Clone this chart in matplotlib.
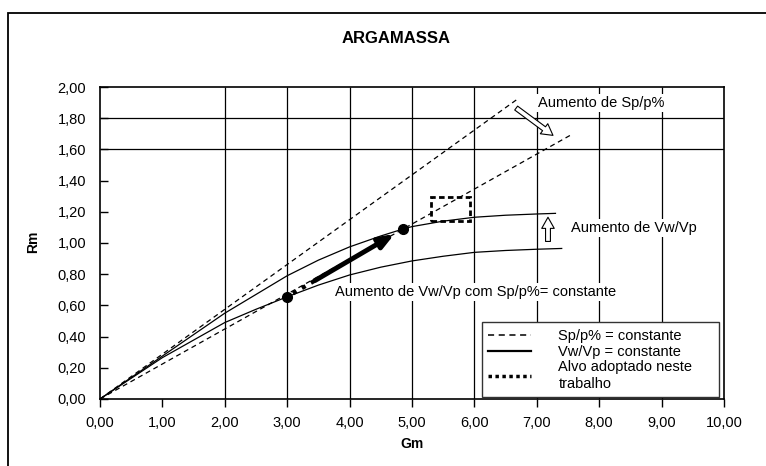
import numpy as np
import matplotlib
matplotlib.use('Agg')
from matplotlib import pyplot as plt
from matplotlib.lines import Line2D
from matplotlib.patches import Rectangle
from matplotlib.ticker import FuncFormatter

plt.rcParams['font.family'] = ['Liberation Sans', 'DejaVu Sans']

# Sp/p% = constante (straight lines from origin)
spp_hi_gm = [0.0, 6.70]
spp_hi_rm = [0.0, 1.925]
spp_lo_gm = [0.0, 7.58]
spp_lo_rm = [0.0, 1.70]

# Vw/Vp = constante curves
vw_hi_gm = [0, 1, 2, 3, 3.5, 4, 4.5, 4.86, 5, 5.5, 6, 6.5, 7, 7.3]
vw_hi_rm = [0, 0.275, 0.55, 0.79, 0.89, 0.975, 1.045, 1.09, 1.105, 1.14, 1.165, 1.178, 1.186, 1.19]
vw_lo_gm = [0, 1, 2, 2.5, 3, 3.5, 4, 4.5, 5, 5.5, 6, 6.5, 7, 7.4]
vw_lo_rm = [0, 0.265, 0.49, 0.575, 0.655, 0.73, 0.795, 0.845, 0.885, 0.915, 0.94, 0.952, 0.96, 0.965]

# path between the two mixes
pts_gm = [3.0, 4.86]
pts_rm = [0.655, 1.09]

# target zone
alvo_gm = [5.30, 5.93]
alvo_rm = [1.14, 1.295]

xticks = np.arange(0, 11, 1)
yticks = np.arange(0, 2.01, 0.2)
grid_x = [2, 3, 4, 5, 6, 7, 8, 9]
grid_y = [1.6, 1.8]

fig = plt.figure(figsize=(7.66, 4.66), dpi=100)
ax = fig.add_axes([0.1305, 0.1438, 0.8146, 0.6695])

# outer chart frame
fig.patches.append(Rectangle((0.0098, -0.2), 1.2, 0.2 + 0.972, transform=fig.transFigure,
                             fill=False, lw=1.3, ec='black'))

ax.vlines(grid_x, 0, 2, colors='black', lw=0.9, zorder=1)
ax.hlines(grid_y, 0, 10, colors='black', lw=0.9, zorder=1)

ax.plot(spp_hi_gm, spp_hi_rm, color='black', lw=0.9, ls=(0, (4, 3)), zorder=3)
ax.plot(spp_lo_gm, spp_lo_rm, color='black', lw=0.9, ls=(0, (4, 3)), zorder=3)
ax.plot(vw_hi_gm, vw_hi_rm, color='black', lw=0.9, zorder=3)
ax.plot(vw_lo_gm, vw_lo_rm, color='black', lw=0.9, zorder=3)

ax.plot(pts_gm, pts_rm, 'o', color='black', ms=7, zorder=5)

# thick arrow from first mix towards second
def along(t):
    return (pts_gm[0] + t * (pts_gm[1] - pts_gm[0]), pts_rm[0] + t * (pts_rm[1] - pts_rm[0]))

d0, d1 = along(0.05), along(0.25)
ax.plot([d0[0], d1[0]], [d0[1], d1[1]], color='black', lw=3, ls=(0, (1, 1.5)), zorder=4)
ax.annotate('', xy=along(0.925), xytext=along(0.24),
            arrowprops=dict(arrowstyle='-|>,head_length=0.9,head_width=0.35', color='black',
                            lw=3.5, shrinkA=0, shrinkB=0), zorder=4)

# target rectangle
ax.add_patch(Rectangle((alvo_gm[0], alvo_rm[0]), alvo_gm[1] - alvo_gm[0], alvo_rm[1] - alvo_rm[0],
                       fill=False, ec='black', lw=2, ls=(0, (2, 1.2)), zorder=4))

# hollow arrows
hollow = dict(arrowstyle='simple,head_length=0.8,head_width=0.9,tail_width=0.35',
              fc='white', ec='black', lw=0.8, shrinkA=0, shrinkB=0)
ax.annotate('', xy=(7.26, 1.69), xytext=(6.67, 1.865), arrowprops=hollow, zorder=6)
ax.annotate('', xy=(7.18, 1.165), xytext=(7.18, 1.01), arrowprops=hollow, zorder=6)

box = dict(fc='white', ec='none', pad=1.5)
ax.text(7.02, 1.90, 'Aumento de Sp/p%', fontsize=10.5, va='center', ha='left', bbox=box, zorder=2)
ax.text(7.55, 1.096, 'Aumento de Vw/Vp', fontsize=10.5, va='center', ha='left', bbox=box, zorder=2)
ax.text(3.77, 0.686, 'Aumento de Vw/Vp com Sp/p%= constante', fontsize=10.5, va='center',
        ha='left', bbox=box, zorder=2)

ax.set_xlim(0, 10)
ax.set_ylim(0, 2)
ax.set_xticks(xticks)
ax.set_yticks(yticks)
fmt = FuncFormatter(lambda v, p: f'{v:.2f}'.replace('.', ','))
ax.xaxis.set_major_formatter(fmt)
ax.yaxis.set_major_formatter(fmt)
ax.tick_params(axis='x', direction='out', length=6, width=1, pad=6, labelsize=10.5)
ax.tick_params(axis='y', direction='in', length=6, width=1, pad=10, labelsize=10.5)
for s in ax.spines.values():
    s.set_linewidth(1.2)

fig.text(0.517, 0.918, 'ARGAMASSA', fontsize=12, fontweight='bold', ha='center', va='center')
fig.text(0.538, 0.047, 'Gm', fontsize=10, fontweight='bold', ha='center', va='center')
fig.text(0.043, 0.481, 'Rm', fontsize=10, fontweight='bold', ha='center', va='center', rotation=90)

handles = [Line2D([], [], color='black', lw=1.1, ls=(0, (4, 3))),
           Line2D([], [], color='black', lw=1.6),
           Line2D([], [], color='black', lw=2.5, ls=(0, (1, 1)))]
labels = ['Sp/p% = constante', 'Vw/Vp = constante', 'Alvo adoptado neste\ntrabalho']
leg = ax.legend(handles, labels, loc='lower left', bbox_to_anchor=(0.612, 0.006, 0.38, 0.257),
                mode='expand', fontsize=10.5, frameon=True, fancybox=False, framealpha=1,
                edgecolor='#333333', handlelength=2.9, handletextpad=1.9, labelspacing=0.12,
                borderpad=0.45, borderaxespad=0)
leg.get_frame().set_linewidth(1.0)
leg.set_zorder(7)

plt.savefig('out.png', dpi=100)
